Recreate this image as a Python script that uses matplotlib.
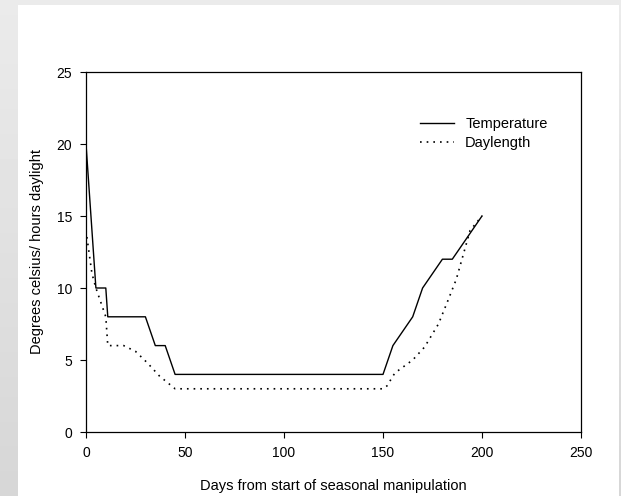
import numpy as np
import matplotlib
matplotlib.use("Agg")
import matplotlib.pyplot as plt
from matplotlib.patches import Rectangle

plt.rcParams['font.family'] = ['Liberation Sans', 'DejaVu Sans']

# data
temp_days = [0, 5, 10, 11, 30, 35, 40, 45, 150, 155, 165, 170, 180, 185, 200]
temp_vals = [20, 10, 10, 8, 8, 6, 6, 4, 4, 6, 8, 10, 12, 12, 15]

day_days = [0, 3, 5, 10, 11, 19, 25, 31, 37, 45, 150, 152, 156, 165, 171, 178, 183, 187, 190.5, 194, 200]
day_vals = [14, 11, 10, 8, 6, 6, 5.6, 4.8, 3.9, 3, 3, 3.2, 4.1, 5, 5.9, 7.5, 9.2, 10.6, 12.3, 14, 15]

x_ticks = [0, 50, 100, 150, 200, 250]
y_ticks = [0, 5, 10, 15, 20, 25]

W, H = 621, 496
fig = plt.figure(figsize=(W / 100, H / 100), dpi=100)

# grey frame with a soft gradient, white panel on top
bg = fig.add_axes([0, 0, 1, 1])
grad = np.linspace(0.92, 0.84, 100).reshape(-1, 1)
bg.imshow(grad, cmap='gray', vmin=0, vmax=1, aspect='auto', extent=[0, W, 0, H])
bg.add_patch(Rectangle((18, 0), 619 - 18, H - 5, facecolor='white', edgecolor='none'))
bg.set_xlim(0, W)
bg.set_ylim(0, H)
bg.axis('off')

ax = fig.add_axes([86 / W, 1 - 432 / H, (581 - 86) / W, (432 - 72) / H])
ax.plot(temp_days, temp_vals, color='black', lw=1.0, label='Temperature')
ax.plot(day_days, day_vals, color='black', lw=1.2, linestyle=(0, (1, 3)), label='Daylength')

ax.set_xlim(0, 250)
ax.set_ylim(0, 25)
ax.set_xticks(x_ticks)
ax.set_yticks(y_ticks)
ax.tick_params(direction='out', length=4, width=0.8, labelsize=10, pad=6, top=False, right=False)
for s in ax.spines.values():
    s.set_linewidth(0.9)

ax.set_xlabel('Days from start of seasonal manipulation', fontsize=10.5, labelpad=14)
ax.set_ylabel('Degrees celsius/ hours daylight', fontsize=10.5, labelpad=9)

ax.legend(loc='upper left', bbox_to_anchor=((420 - 86) / 495, (432 - 117) / 360), frameon=False,
          fontsize=10.5, borderpad=0, borderaxespad=0, handlelength=2.3, handletextpad=0.8,
          labelspacing=0.35)

fig.savefig('out.png', dpi=100)
